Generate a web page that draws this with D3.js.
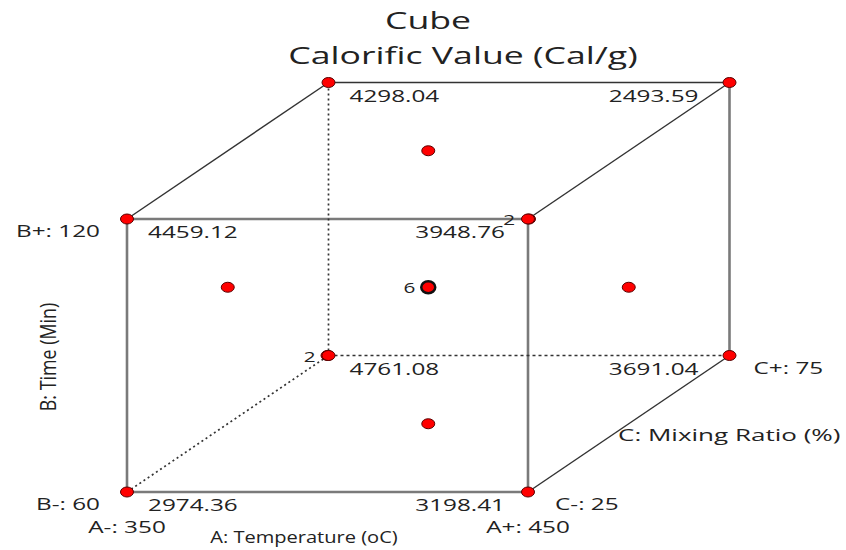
<!DOCTYPE html>
<html>
<head>
<meta charset="utf-8">
<script src="https://cdn.jsdelivr.net/npm/d3@7"></script>
<style>
    body { margin: 0; background: #fff; }
    text { font-family: "Open Sans", "Noto Sans", sans-serif; fill: #222; }
</style>
</head>
<body>
<div id="plot"></div>
<script>
// factor levels
const levelsA = [350, 450];
const levelsB = [60, 120];
const levelsC = [25, 75];

// cube corners in coded units and the response at each one
const cornerA = [-1, 1, -1, 1, -1, 1, -1, 1];
const cornerB = [-1, -1, 1, 1, -1, -1, 1, 1];
const cornerC = [-1, -1, -1, -1, 1, 1, 1, 1];
const cornerValues = [2974.36, 3198.41, 4459.12, 3948.76, 4761.08, 3691.04, 4298.04, 2493.59];

// face centres and the centre point
const axialA = [0, 0, -1, 1, 0, 0, 0];
const axialB = [1, -1, 0, 0, 0, 0, 0];
const axialC = [0, 0, 0, 0, -1, 1, 0];

// replicate counts shown beside some points
const countA = [1, -1, 0];
const countB = [1, -1, 0];
const countC = [-1, 1, 0];
const countN = [2, 2, 6];

const width = 846, height = 550;
const SX = 1.43; // the reference is drawn wider than tall

const svg = d3.select("#plot").append("svg")
    .attr("width", width)
    .attr("height", height);

const xA = d3.scaleLinear().domain([-1, 1]).range([127, 528]);
const yB = d3.scaleLinear().domain([-1, 1]).range([492, 219]);
const dxC = d3.scaleLinear().domain([-1, 1]).range([0, 201.5]);
const dyC = d3.scaleLinear().domain([-1, 1]).range([0, -136.5]);

const px = (a, c) => xA(a) + dxC(c);
const py = (b, c) => yB(b) + dyC(c);

function label(x, y, str, size, anchor, sx = SX) {
    return svg.append("text")
        .attr("transform", `translate(${x},${y}) scale(${sx},1)`)
        .attr("text-anchor", anchor)
        .style("font-size", size + "px")
        .text(str);
}

// edges
const corners = cornerA.map((a, i) => ({ a, b: cornerB[i], c: cornerC[i], value: cornerValues[i] }));
const edges = [];
corners.forEach((p, i) => corners.forEach((q, j) => {
    if (j <= i) return;
    const diff = (p.a !== q.a) + (p.b !== q.b) + (p.c !== q.c);
    if (diff === 1) edges.push([p, q]);
}));

const isHidden = p => p.a === -1 && p.b === -1 && p.c === 1;

edges.forEach(([p, q]) => {
    const hidden = isHidden(p) || isHidden(q);
    const front = p.c === -1 && q.c === -1;
    const vertical = p.b !== q.b;
    const line = svg.append("line")
        .attr("x1", px(p.a, p.c)).attr("y1", py(p.b, p.c))
        .attr("x2", px(q.a, q.c)).attr("y2", py(q.b, q.c));
    if (hidden) {
        line.attr("stroke", "#333").attr("stroke-width", 1.7)
            .attr("stroke-dasharray", p.b !== q.b || p.c !== q.c ? "2,3" : "3,3");
    } else if (front || vertical) {
        line.attr("stroke", "#7a7a7a").attr("stroke-width", 2.6);
    } else {
        line.attr("stroke", "#333").attr("stroke-width", 1.5);
    }
});

// points
const axial = axialA.map((a, i) => ({ a, b: axialB[i], c: axialC[i] }));
const drawPoint = (p, centre) => svg.append("ellipse")
    .attr("cx", px(p.a, p.c)).attr("cy", py(p.b, p.c))
    .attr("rx", centre ? 7 : 6.5).attr("ry", centre ? 6 : 5)
    .attr("fill", "#ff0000")
    .attr("stroke", centre ? "#111" : "#5a0000")
    .attr("stroke-width", centre ? 2.5 : 1);

axial.forEach(p => drawPoint(p, p.a === 0 && p.b === 0 && p.c === 0));
corners.forEach(p => drawPoint(p, false));

// response values at the corners
corners.forEach(p => {
    const x = px(p.a, p.c), y = py(p.b, p.c);
    const txt = d3.format(".2f")(p.value);
    if (p.a < 0) label(x + 21, y + 19, txt, 17, "start");
    else label(x - 27 - 4 * p.c, y + 19, txt, 17, "end");
});

// counts
countN.forEach((n, i) => {
    label(px(countA[i], countC[i]) - 13, py(countB[i], countC[i]) + 6, n, 14.5, "end");
});

// factor labels
label(100, yB(1) + 18, `B+: ${levelsB[1]}`, 17, "end");
label(100, yB(-1) + 18, `B-: ${levelsB[0]}`, 17, "end");
label(xA(-1), yB(-1) + 41, `A-: ${levelsA[0]}`, 17, "middle");
label(xA(1), yB(-1) + 41, `A+: ${levelsA[1]}`, 17, "middle");
label(xA(1) + 27, yB(-1) + 18, `C-: ${levelsC[0]}`, 17, "start");
label(px(1, 1) + 24, py(-1, 1) + 18, `C+: ${levelsC[1]}`, 17, "start");

label(304, 543, "A: Temperature (oC)", 17, "middle", 1.18);
label(618, 441, "C: Mixing Ratio (%)", 17, "start", 1.53);

svg.append("text")
    .attr("transform", "translate(56,357) rotate(-90) scale(1.05,1.3)")
    .attr("text-anchor", "middle")
    .style("font-size", "17px")
    .text("B: Time (Min)");

// title
label(428, 29, "Cube", 23, "middle", 1.55);
label(463, 64, "Calorific Value (Cal/g)", 23, "middle", 1.55);
</script>
</body>
</html>
